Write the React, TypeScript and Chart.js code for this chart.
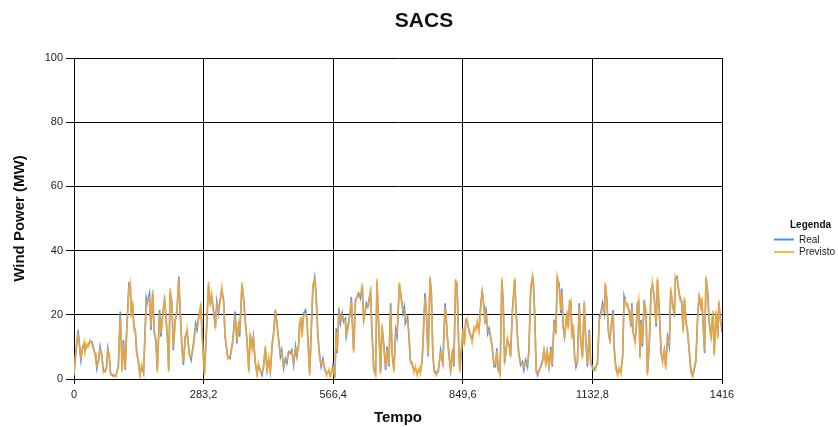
import { useEffect, useRef } from "react";
import { Chart, registerables } from "chart.js";

Chart.register(...registerables);

const chartTitle = "SACS";
const seriesLabels = ["Real", "Previsto"];
const xTicks = [0, 283.2, 566.4, 849.6, 1132.8, 1416];
const yTicks = [0, 20, 40, 60, 80, 100];
const xMax = 1416;

const tempo = [
  0, 4, 9, 15, 19, 22, 24, 28, 31, 35, 39, 42, 46, 48, 50, 54, 57, 61, 64, 68, 71, 74, 77, 80, 86, 92, 97, 101, 103, 105, 108, 112, 115, 120, 123, 125, 128, 131, 134, 137, 141, 144, 148, 152, 158, 160, 165, 168, 172, 175, 179, 182, 187, 190, 194, 198, 201, 204, 207, 210, 214, 217, 221, 225, 229,
  232, 236, 239, 243, 247, 252, 256, 261, 266, 269, 272, 277, 279, 282, 285, 289, 294, 298, 301, 305, 309, 312, 316, 318, 323, 327, 330, 336, 341, 347, 352, 356, 360, 362, 367, 371, 374, 378, 382, 385, 389, 392, 396, 400, 403, 407, 411, 414, 418, 422, 425, 429, 433, 436, 440, 444, 447, 451, 454, 458,
  462, 465, 469, 473, 476, 480, 484, 487, 491, 493, 496, 498, 502, 506, 509, 511, 515, 518, 522, 526, 529, 533, 536, 540, 544, 548, 552, 557, 560, 564, 566, 570, 573, 575, 579, 582, 586, 589, 593, 595, 599, 603, 606, 608, 611, 615, 619, 622, 626, 630, 633, 637, 639, 642, 644, 648, 651, 655, 659, 662, 666, 670, 673, 677, 681, 684, 688,
  692, 695, 699, 703, 706, 711, 716, 719, 722, 724, 729, 732, 735, 739, 743, 746, 750, 754, 757, 761, 767, 770, 772, 774, 778, 781, 784, 787, 792, 796, 801, 803, 806, 811, 813, 816, 819, 823, 827, 830, 834, 837, 840, 843, 847, 850, 853, 856, 859, 863, 867, 870, 874, 878, 881, 885, 889, 892, 896, 898, 901, 904, 907, 910, 914, 918,
  921, 924, 927, 931, 935, 938, 941, 944, 947, 951, 954, 958, 963, 966, 969, 972, 976, 980, 983, 987, 991, 994, 998, 1002, 1004, 1007, 1010, 1013, 1016, 1020, 1024, 1027, 1031, 1034, 1038, 1042, 1045, 1049, 1053, 1056, 1060, 1064, 1066, 1069, 1072, 1077, 1080, 1083, 1086, 1088, 1091, 1094, 1097, 1100, 1104, 1107, 1111, 1115, 1118, 1122, 1126, 1129, 1133, 1137, 1140, 1144, 1148,
  1151, 1155, 1159, 1161, 1164, 1168, 1171, 1173, 1175, 1178, 1180, 1184, 1188, 1191, 1195, 1199, 1202, 1204, 1207, 1210, 1213, 1217, 1219, 1222, 1226, 1229, 1231, 1234, 1237, 1239, 1242, 1246, 1250, 1253, 1257, 1261, 1264, 1268, 1272, 1275, 1279, 1283, 1286, 1290, 1293, 1297, 1301, 1304, 1308, 1312, 1314, 1318, 1321, 1324, 1328, 1331, 1334, 1337, 1341, 1345, 1348, 1352, 1355, 1359, 1363, 1366, 1370, 1372, 1375, 1378, 1381, 1385, 1388, 1392, 1396, 1399, 1403, 1407, 1409, 1412, 1416,
];

const realValues = [
  1.8, 8.0, 15.3, 5.9, 10.1, 10.9, 9.0, 10.1, 10.6, 11.6, 11.6, 10.1, 7.5, 5.9, 3.3, 6.4, 10.1, 7.0, 2.8, 2.3, 3.8, 9.6, 7.0, 1.8, 0.9, 1.2, 3.8, 21.0, 13.2, 2.8, 12.1, 2.8, 14.7, 29.8, 29.3, 20.5, 23.6, 16.3, 14.7, 8.5, 4.9, 1.8, 3.8, 1.8, 25.1, 23.6, 26.7, 15.3, 26.7, 15.3, 11.6, 2.8, 21.5, 13.2, 20.5, 24.6, 19.4, 13.2, 2.8, 27.2, 23.6, 9.0, 18.4, 20.5, 31.9,
  20.5, 10.1, 4.4, 13.2, 14.7, 8.0, 5.9, 11.1, 17.3, 15.3, 18.9, 22.5, 17.3, 9.0, 1.8, 13.2, 29.3, 23.6, 25.6, 21.5, 15.8, 24.1, 20.5, 23.6, 27.7, 24.6, 13.2, 7.0, 6.4, 12.1, 21.0, 11.1, 17.9, 13.2, 29.3, 24.6, 18.4, 12.1, 2.8, 13.7, 10.1, 13.2, 4.9, 1.8, 4.4, 2.8, 1.2, 3.8, 9.6, 2.8, 5.9, 2.3, 10.6, 14.2, 21.5, 16.3, 12.7, 7.0, 9.0, 3.3,
  6.4, 4.9, 8.5, 8.0, 9.0, 4.4, 10.1, 7.0, 11.1, 17.3, 18.4, 13.7, 20.5, 21.5, 18.4, 13.2, 1.8, 13.2, 28.2, 31.7, 26.7, 13.2, 8.5, 3.8, 6.4, 2.8, 1.8, 2.3, 1.2, 2.8, 4.4, 0.7, 15.8, 8.0, 22.0, 17.3, 20.5, 17.9, 18.9, 13.2, 16.8, 19.9, 25.6, 18.4, 9.0, 24.6, 25.6, 26.7, 25.1, 28.8, 18.4, 21.5, 23.6, 22.5, 24.1, 27.2, 15.3, 3.3, 1.8, 30.3, 16.3, 2.3, 16.3, 10.6, 2.8, 10.1, 3.8,
  23.6, 8.0, 2.8, 15.3, 13.2, 29.3, 24.6, 20.5, 22.5, 17.3, 19.4, 13.2, 5.9, 4.4, 2.8, 3.3, 1.8, 2.8, 2.3, 5.9, 26.7, 20.5, 13.2, 7.0, 31.4, 26.7, 8.0, 2.8, 1.8, 2.3, 9.0, 7.0, 4.9, 23.6, 19.4, 13.2, 8.0, 2.8, 9.0, 3.8, 30.3, 29.8, 13.2, 2.8, 10.1, 14.7, 11.1, 18.4, 17.9, 15.3, 13.2, 12.1, 15.3, 15.8, 17.3, 15.3, 23.6, 27.2, 22.5, 17.3, 20.5, 14.2, 15.8, 13.2, 10.1, 3.8,
  3.8, 9.6, 2.8, 1.8, 30.8, 23.6, 4.9, 9.0, 12.1, 10.6, 7.0, 21.5, 30.8, 21.5, 13.2, 8.0, 4.4, 5.4, 2.8, 5.9, 3.8, 9.0, 27.7, 31.9, 29.8, 19.4, 2.8, 1.2, 2.8, 3.8, 5.9, 9.0, 4.9, 8.5, 3.8, 10.1, 3.8, 18.4, 14.2, 31.4, 29.8, 20.5, 28.2, 16.3, 13.2, 20.5, 16.3, 24.1, 23.6, 13.2, 16.3, 7.0, 3.8, 5.4, 23.6, 12.1, 7.0, 23.6, 13.2, 3.8, 15.3, 4.9, 3.8, 2.8, 3.8, 4.9, 19.4,
  20.5, 23.6, 20.5, 29.3, 25.6, 14.2, 12.1, 15.3, 17.9, 21.5, 10.1, 3.8, 1.8, 2.8, 2.3, 7.0, 25.6, 24.1, 23.6, 22.5, 21.5, 16.3, 23.6, 14.2, 12.1, 16.3, 23.6, 24.1, 7.0, 18.4, 10.1, 24.6, 20.5, 1.8, 10.1, 27.7, 29.3, 25.6, 16.3, 30.8, 21.5, 8.0, 5.9, 9.0, 3.8, 13.2, 10.1, 27.7, 23.6, 19.4, 31.4, 31.9, 27.7, 25.6, 23.6, 15.3, 24.6, 18.4, 14.2, 8.0, 2.8, 1.2, 2.8, 5.9, 20.5, 25.6, 22.5, 24.6, 16.8, 8.0, 31.4, 26.7, 17.3, 13.2, 20.5, 8.0, 20.5, 13.2, 23.6, 19.4, 14.7,
];

const previstoValues = [
  1.0, 9.2, 14.0, 6.8, 9.2, 11.5, 8.2, 10.8, 10.0, 12.2, 11.0, 9.4, 8.3, 5.0, 4.0, 5.6, 9.3, 7.8, 2.0, 3.0, 3.1, 8.8, 7.8, 1.2, 1.5, 0.6, 4.6, 19.5, 14.2, 2.0, 11.2, 3.4, 13.5, 28.5, 30.2, 19.2, 24.5, 15.2, 15.6, 7.6, 5.7, 0.4, 4.5, 2.4, 23.8, 24.6, 25.5, 16.4, 27.8, 14.2, 12.5, 2.0, 20.4, 14.3, 19.4, 25.6, 18.2, 14.0, 2.1, 28.3, 22.5, 9.8, 17.4, 21.6, 31.2,
  21.8, 9.0, 5.2, 12.0, 15.6, 7.2, 6.8, 10.2, 16.2, 16.2, 18.0, 23.4, 16.4, 8.0, 1.0, 14.2, 30.4, 22.6, 26.5, 20.4, 16.8, 23.2, 21.4, 22.5, 28.6, 23.5, 14.0, 6.2, 7.2, 11.2, 19.8, 12.0, 16.8, 14.2, 30.2, 23.6, 19.2, 11.3, 2.0, 14.6, 9.2, 12.4, 5.6, 1.0, 5.0, 2.2, 2.0, 3.0, 10.4, 2.0, 6.6, 1.6, 11.4, 13.4, 20.6, 17.2, 11.9, 7.8, 8.2, 4.1,
  5.6, 5.8, 7.6, 8.8, 8.2, 5.2, 9.3, 7.8, 10.2, 16.4, 19.3, 12.8, 19.6, 20.4, 19.2, 12.2, 1.0, 14.4, 29.4, 31.0, 25.5, 14.2, 7.6, 4.6, 5.6, 3.5, 1.0, 3.0, 0.6, 3.4, 3.6, 0.2, 14.6, 8.8, 20.9, 18.2, 19.6, 18.8, 17.8, 14.0, 15.8, 20.8, 24.4, 19.3, 8.2, 23.5, 26.4, 25.6, 26.0, 29.8, 17.4, 22.3, 22.6, 23.4, 23.2, 28.2, 14.4, 2.5, 1.0, 31.2, 15.2, 1.5, 17.2, 9.8, 3.6, 9.2, 4.6,
  22.4, 9.0, 2.0, 14.2, 14.2, 30.2, 23.5, 21.4, 21.6, 18.2, 18.5, 14.0, 5.0, 5.2, 2.0, 4.0, 1.0, 3.5, 1.6, 6.8, 25.5, 21.5, 12.2, 7.8, 32.0, 25.6, 8.8, 2.0, 1.0, 3.0, 8.2, 7.8, 4.0, 22.4, 20.3, 12.4, 8.8, 2.0, 8.2, 4.6, 31.2, 28.8, 14.2, 2.0, 9.2, 15.5, 10.3, 17.4, 18.8, 14.5, 14.0, 11.3, 16.2, 15.0, 18.2, 14.5, 22.5, 28.0, 21.6, 18.2, 19.6, 15.1, 15.0, 14.0, 9.2, 4.5,
  4.6, 8.8, 3.6, 1.0, 31.6, 22.4, 5.8, 8.2, 12.9, 9.8, 7.8, 20.4, 31.5, 20.6, 14.0, 7.2, 5.2, 4.6, 3.6, 5.0, 4.6, 8.0, 28.6, 32.0, 28.8, 18.2, 2.0, 2.0, 2.0, 4.6, 5.0, 9.8, 4.0, 9.3, 3.0, 9.2, 4.6, 17.3, 15.0, 32.0, 28.8, 21.4, 27.2, 17.2, 12.4, 21.3, 15.4, 23.2, 24.4, 12.3, 17.1, 6.2, 4.6, 4.6, 22.5, 12.9, 6.2, 24.4, 12.4, 4.6, 14.4, 5.7, 3.0, 3.6, 3.0, 5.7, 18.5,
  19.4, 22.6, 21.5, 30.2, 24.5, 15.2, 11.3, 16.2, 17.0, 20.5, 11.0, 3.0, 1.0, 3.6, 1.6, 7.8, 24.6, 25.0, 22.7, 23.4, 20.6, 17.2, 22.6, 15.1, 11.2, 17.2, 22.7, 25.0, 6.2, 17.5, 11.0, 23.6, 21.4, 1.0, 11.0, 26.6, 30.2, 24.6, 17.2, 31.6, 20.5, 8.8, 5.1, 9.8, 3.0, 12.3, 11.0, 28.6, 22.6, 20.3, 32.2, 31.0, 28.6, 24.6, 24.5, 14.4, 25.5, 17.5, 15.1, 7.2, 2.0, 0.6, 3.6, 5.0, 19.6, 26.5, 21.6, 25.5, 15.9, 8.8, 32.0, 25.7, 18.2, 12.4, 21.4, 7.2, 21.4, 12.4, 24.5, 18.5, 15.6,
];

const realColor = "rgb(79,145,236)";
const previstoColor = "rgba(255,168,38,0.85)";
const fontFamily = '"Liberation Sans", Arial, sans-serif';

export default function App() {
  const ref = useRef<HTMLCanvasElement>(null);

  useEffect(() => {
    document.body.style.margin = "0";
    const canvas = ref.current;
    if (!canvas) return;
    const toPoints = (arr: number[]) => arr.map((y, i) => ({ x: tempo[i], y }));

    const overlay = {
      id: "overlay",
      afterDraw(chart: any) {
        const ctx = chart.ctx as CanvasRenderingContext2D;
        ctx.save();
        ctx.fillStyle = "#111";
        ctx.font = `bold 21px ${fontFamily}`;
        ctx.textAlign = "center";
        ctx.textBaseline = "middle";
        ctx.fillText(chartTitle, 424, 21);

        ctx.textAlign = "left";
        ctx.font = `bold 10px ${fontFamily}`;
        ctx.fillText("Legenda", 790, 225);
        const colors = [realColor, previstoColor];
        const ys = [239.5, 252];
        ctx.font = `10px ${fontFamily}`;
        seriesLabels.forEach((lab, i) => {
          ctx.strokeStyle = colors[i];
          ctx.lineWidth = 2;
          ctx.beginPath();
          ctx.moveTo(774, ys[i]);
          ctx.lineTo(794, ys[i]);
          ctx.stroke();
          ctx.fillStyle = "#222";
          ctx.fillText(lab, 799, ys[i] + 0.5);
        });
        ctx.restore();
      },
    };

    const chart = new Chart(canvas, {
      type: "line",
      data: {
        datasets: [
          {
            label: seriesLabels[0],
            data: toPoints(realValues),
            borderColor: realColor,
            borderWidth: 1.6,
            pointRadius: 0,
            tension: 0,
            order: 2,
          },
          {
            label: seriesLabels[1],
            data: toPoints(previstoValues),
            borderColor: previstoColor,
            borderWidth: 1.6,
            pointRadius: 0,
            tension: 0,
            order: 1,
          },
        ],
      },
      options: {
        responsive: false,
        animation: false,
        layout: { padding: { left: 0, top: 58, right: 116, bottom: 0 } },
        plugins: {
          legend: { display: false },
          title: { display: false },
          tooltip: { enabled: false },
        },
        scales: {
          x: {
            type: "linear",
            min: 0,
            max: xMax,
            afterBuildTicks: (s: any) => {
              s.ticks = xTicks.map((v) => ({ value: v }));
            },
            afterFit: (s: any) => {
              s.height = 48;
            },
            ticks: {
              autoSkip: false,
              maxRotation: 0,
              padding: 4,
              color: "#222",
              font: { family: fontFamily, size: 11 },
              callback: (v: any) => String(v).replace(".", ","),
            },
            grid: { color: "#000", lineWidth: 1, tickLength: 5 },
            border: { color: "#000", width: 1 },
            title: {
              display: true,
              text: "Tempo",
              color: "#111",
              font: { family: fontFamily, size: 15, weight: "bold" },
              padding: { top: 0, bottom: 0 },
            },
          },
          y: {
            min: 0,
            max: 100,
            afterBuildTicks: (s: any) => {
              s.ticks = yTicks.map((v) => ({ value: v }));
            },
            afterFit: (s: any) => {
              s.width = 74;
            },
            ticks: {
              padding: 3,
              color: "#222",
              font: { family: fontFamily, size: 11 },
            },
            grid: { color: "#000", lineWidth: 1, tickLength: 8 },
            border: { color: "#000", width: 1 },
            title: {
              display: true,
              text: "Wind Power (MW)",
              color: "#111",
              font: { family: fontFamily, size: 15, weight: "bold" },
              padding: { top: 11, bottom: 0 },
            },
          },
        },
      },
      plugins: [overlay],
    });
    return () => chart.destroy();
  }, []);

  return (
    <div style={{ width: 838, height: 427 }}>
      <canvas ref={ref} width={838} height={427} style={{ display: "block" }} />
    </div>
  );
}
